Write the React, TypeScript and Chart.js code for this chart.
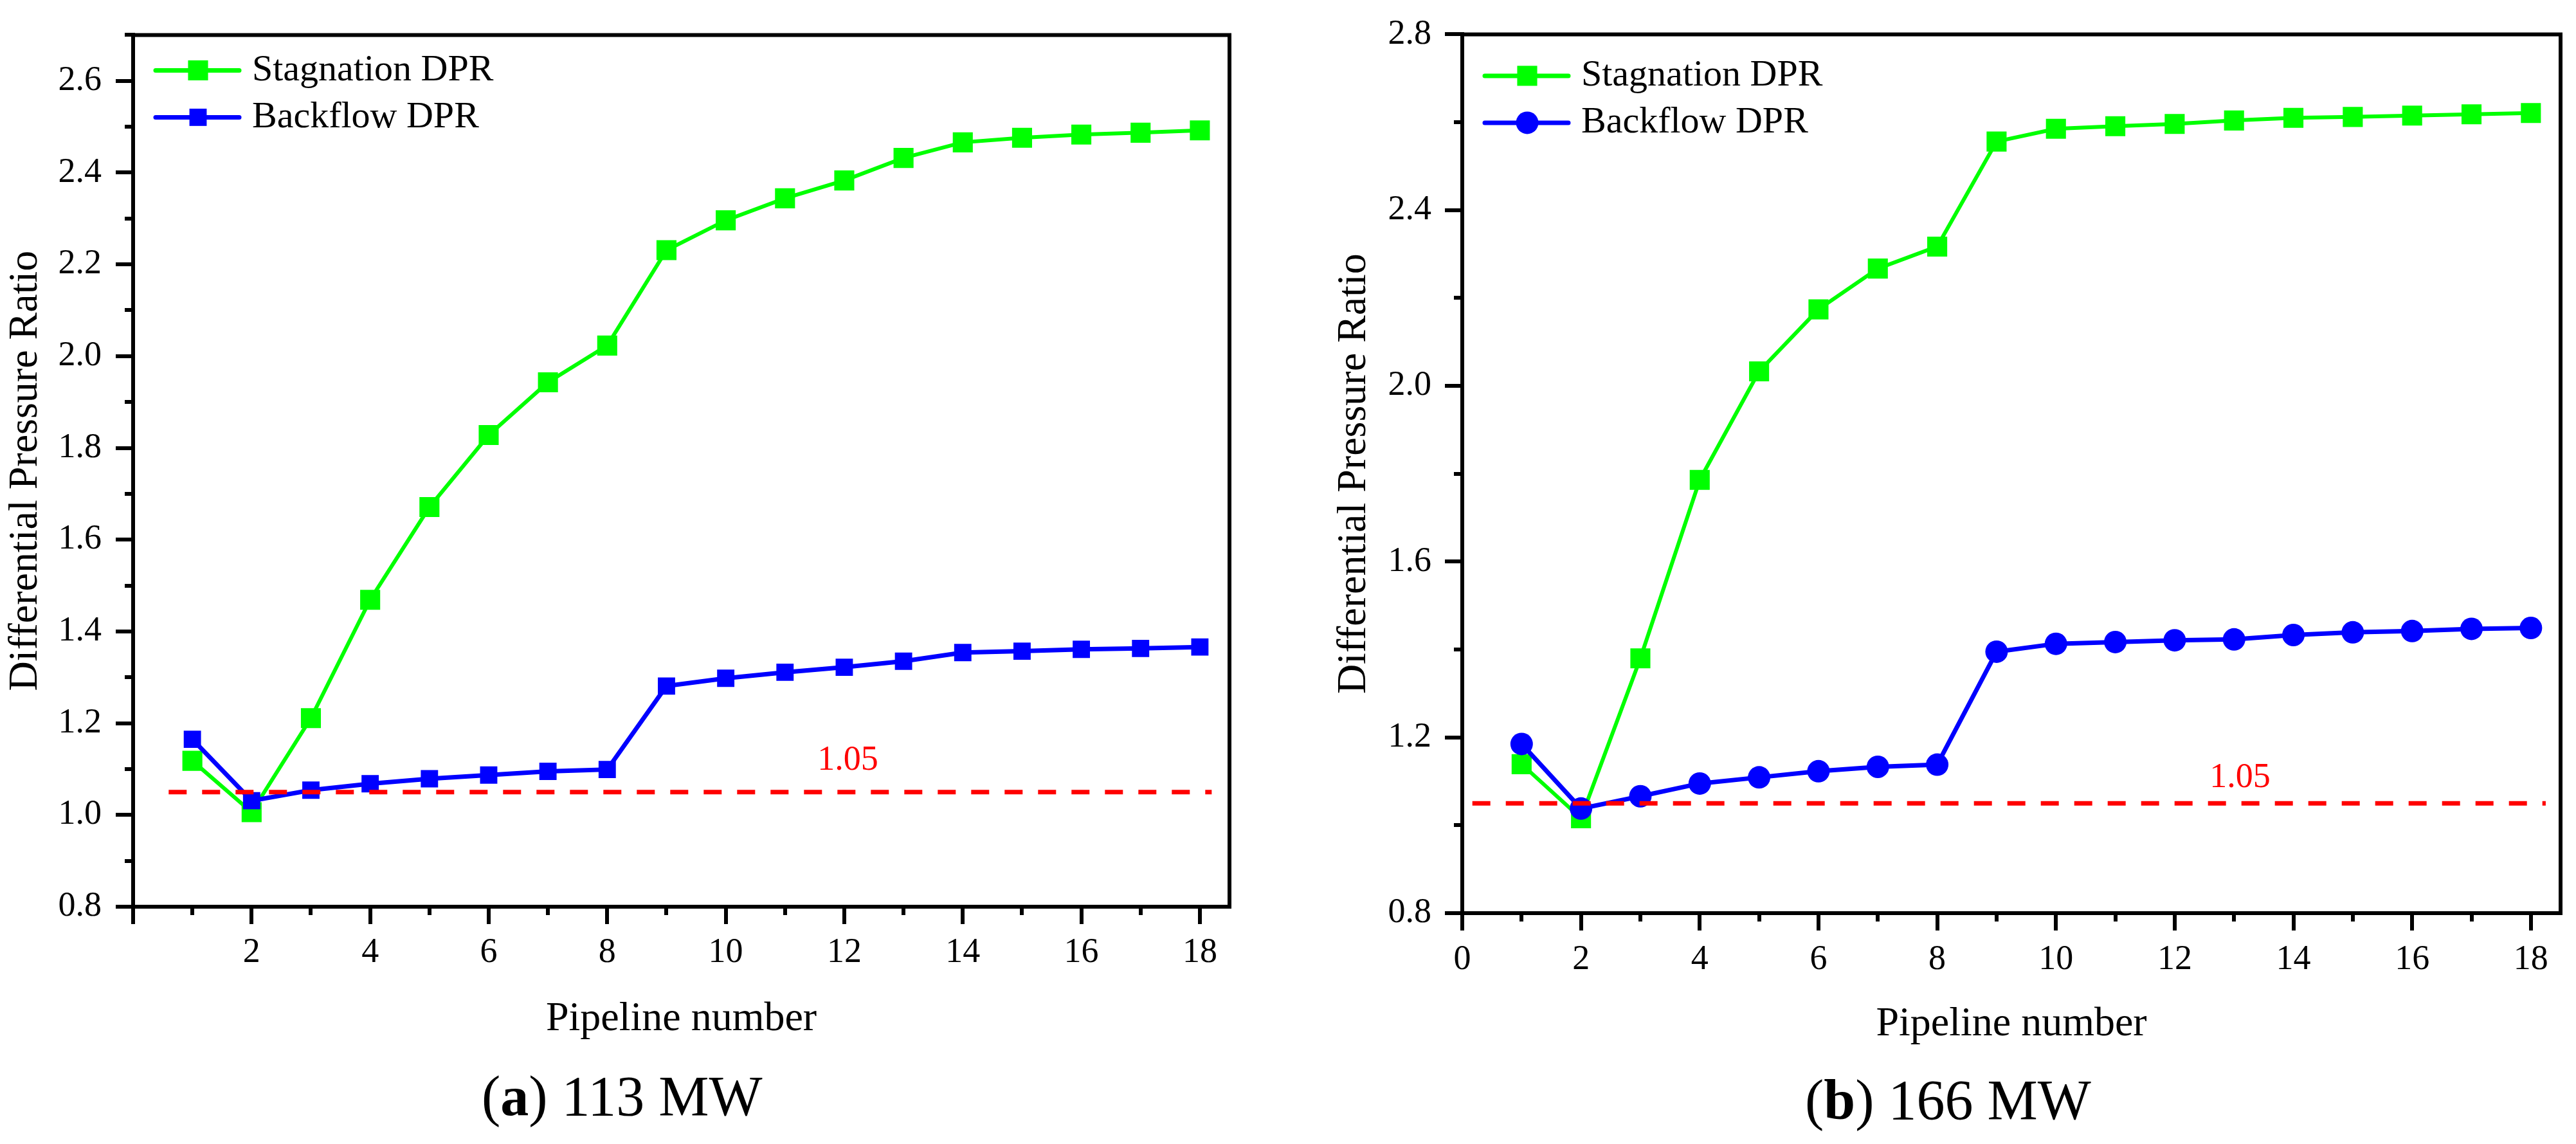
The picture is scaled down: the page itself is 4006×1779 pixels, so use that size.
import React, { useEffect, useRef } from "react";
import { Chart, registerables } from "chart.js";

Chart.register(...registerables);

const FONT = "'Liberation Serif', 'Times New Roman', serif";

// ---------- data ----------
const pipelines = [1, 2, 3, 4, 5, 6, 7, 8, 9, 10, 11, 12, 13, 14, 15, 16, 17, 18];
const stagnationA = [1.118, 1.006, 1.211, 1.469, 1.671, 1.828, 1.943, 2.023, 2.231, 2.296, 2.344, 2.383, 2.432, 2.466, 2.476, 2.483, 2.487, 2.492];
const backflowA = [1.165, 1.031, 1.054, 1.068, 1.079, 1.087, 1.095, 1.099, 1.281, 1.298, 1.311, 1.322, 1.335, 1.354, 1.357, 1.361, 1.363, 1.366];
const stagnationB = [1.139, 1.016, 1.38, 1.786, 2.033, 2.174, 2.267, 2.317, 2.556, 2.585, 2.591, 2.596, 2.604, 2.61, 2.612, 2.615, 2.618, 2.621];
const backflowB = [1.185, 1.038, 1.066, 1.095, 1.109, 1.123, 1.133, 1.138, 1.395, 1.413, 1.417, 1.421, 1.423, 1.433, 1.439, 1.442, 1.447, 1.449];
const thresholdValue = 1.05;
const thresholdText = "1.05";
const thresholdSpanA = [0.6, 18.2];
const thresholdSpanB = [0.17, 18.25];
const noteA = [12.06, 1.118];
const noteB = [13.1, 1.107];
const seriesLabels = ["Stagnation DPR", "Backflow DPR"];
const xTitle = "Pipeline number";
const yTitle = "Differential Pressure Ratio";
const yRangeA = [0.8, 2.7];
const yRangeB = [0.8, 2.8];
const xRange = [0, 18.5];

const framePlugin = {
  id: "frame",
  afterDraw(chart: any) {
    const { ctx, chartArea } = chart;
    ctx.save();
    ctx.strokeStyle = "#000";
    ctx.lineWidth = 6;
    ctx.lineJoin = "miter";
    ctx.beginPath();
    ctx.moveTo(chartArea.left, chartArea.top);
    ctx.lineTo(chartArea.right, chartArea.top);
    ctx.lineTo(chartArea.right, chartArea.bottom + 3);
    ctx.stroke();
    ctx.restore();
  },
};

const legendPlugin = {
  id: "insideLegend",
  afterDraw(chart: any, _args: any, opts: any) {
    const { ctx, chartArea } = chart;
    ctx.save();
    opts.labels.forEach((label: string, k: number) => {
      const ds = chart.data.datasets.find((d: any) => d.label === label);
      if (!ds) return;
      const y = chartArea.top + opts.top + k * opts.gap;
      const x0 = chartArea.left + opts.lineStart;
      ctx.setLineDash([]);
      ctx.strokeStyle = ds.borderColor;
      ctx.lineWidth = 7;
      ctx.lineCap = "round";
      ctx.beginPath();
      ctx.moveTo(x0, y);
      ctx.lineTo(x0 + opts.lineLength, y);
      ctx.stroke();
      const mx = chartArea.left + opts.markerX;
      ctx.fillStyle = ds.backgroundColor;
      if (ds.pointStyle === "circle") {
        ctx.beginPath();
        ctx.arc(mx, y, ds.pointRadius, 0, Math.PI * 2);
        ctx.fill();
      } else {
        const s = ds.pointRadius * Math.SQRT2;
        ctx.fillRect(mx - s / 2, y - s / 2, s, s);
      }
      ctx.fillStyle = "#000";
      ctx.font = `${opts.fontSize}px ${FONT}`;
      ctx.textAlign = "left";
      ctx.textBaseline = "middle";
      ctx.fillText(label, chartArea.left + opts.textX, y);
    });
    ctx.restore();
  },
};

const notePlugin = {
  id: "valueNote",
  afterDatasetsDraw(chart: any, _args: any, opts: any) {
    const { ctx } = chart;
    const x = chart.scales.x.getPixelForValue(opts.x);
    const y = chart.scales.y.getPixelForValue(opts.y);
    ctx.save();
    ctx.fillStyle = "#FF0000";
    ctx.font = `${opts.fontSize}px ${FONT}`;
    ctx.textAlign = "center";
    ctx.textBaseline = "middle";
    ctx.fillText(opts.text, x, y);
    ctx.restore();
  },
};

type PanelCfg = {
  left: number;
  w: number;
  h: number;
  stag: number[];
  back: number[];
  backStyle: string;
  backRadius: number;
  yRange: number[];
  yStep: number;
  yMajorEvery: number;
  showZero: boolean;
  thresholdSpan: number[];
  note: number[];
  padTop: number;
  padRight: number;
  yWidth: number;
  xHeight: number;
  yTickPad: number;
  xTickPad: number;
  yTitlePad: number;
  xTitlePad: number;
  legendTop: number;
};

function ChartPanel({ cfg }: { cfg: PanelCfg }) {
  const ref = useRef<HTMLCanvasElement>(null);
  useEffect(() => {
    const toPts = (arr: number[]) => pipelines.map((p, i) => ({ x: p, y: arr[i] }));
    const isMajorY = (v: number) => Math.round(v * 10) % cfg.yMajorEvery === 0;
    const chart = new Chart(ref.current as HTMLCanvasElement, {
      type: "line",
      data: {
        datasets: [
          {
            label: "threshold",
            data: cfg.thresholdSpan.map((x) => ({ x, y: thresholdValue })),
            borderColor: "#FF0000",
            backgroundColor: "#FF0000",
            borderWidth: 7,
            borderDash: [28, 24],
            pointRadius: 0,
            order: 0,
          },
          {
            label: seriesLabels[1],
            data: toPts(cfg.back),
            borderColor: "#0000FF",
            backgroundColor: "#0000FF",
            borderWidth: 7,
            pointStyle: cfg.backStyle,
            pointRadius: cfg.backRadius,
            pointBorderWidth: 0,
            order: 1,
          },
          {
            label: seriesLabels[0],
            data: toPts(cfg.stag),
            borderColor: "#00FF00",
            backgroundColor: "#00FF00",
            borderWidth: 6,
            pointStyle: "rect",
            pointRadius: 22,
            pointBorderWidth: 0,
            order: 2,
          },
        ] as any,
      },
      options: {
        responsive: false,
        animation: false,
        devicePixelRatio: 1,
        layout: { padding: { left: 0, top: cfg.padTop, right: cfg.padRight, bottom: 0 } },
        plugins: {
          legend: { display: false },
          tooltip: { enabled: false },
          insideLegend: {
            labels: seriesLabels,
            top: cfg.legendTop,
            gap: 73,
            lineStart: 35,
            lineLength: 130,
            markerX: 101,
            textX: 185,
            fontSize: 58,
          },
          valueNote: { x: cfg.note[0], y: cfg.note[1], text: thresholdText, fontSize: 54 },
        } as any,
        scales: {
          x: {
            type: "linear",
            min: xRange[0],
            max: xRange[1],
            afterFit: (s: any) => {
              s.height = cfg.xHeight;
            },
            border: { display: true, color: "#000", width: 6 },
            grid: {
              drawOnChartArea: false,
              drawTicks: true,
              tickLength: 27,
              lineWidth: 6,
              tickWidth: 6,
              color: "#000",
              tickColor: "#000",
              tickBorderDash: (c: any) => (Math.round(c.tick.value) % 2 === 0 ? [] : [10, 100]),
            } as any,
            ticks: {
              stepSize: 1,
              includeBounds: false,
              autoSkip: false,
              maxRotation: 0,
              padding: cfg.xTickPad,
              color: "#000",
              font: { family: FONT, size: 54 },
              callback: (v: any) => {
                const n = Math.round(Number(v));
                if (n % 2 !== 0) return "";
                if (n === 0 && !cfg.showZero) return "";
                return String(n);
              },
            },
            title: {
              display: true,
              text: xTitle,
              color: "#000",
              font: { family: FONT, size: 64 },
              padding: { top: 0, bottom: cfg.xTitlePad },
            },
          },
          y: {
            type: "linear",
            min: cfg.yRange[0],
            max: cfg.yRange[1],
            afterFit: (s: any) => {
              s.width = cfg.yWidth;
            },
            border: { display: true, color: "#000", width: 6 },
            grid: {
              drawOnChartArea: false,
              drawTicks: true,
              tickLength: 27,
              lineWidth: 6,
              tickWidth: 6,
              color: "#000",
              tickColor: "#000",
              tickBorderDash: (c: any) => (isMajorY(c.tick.value) ? [] : [0, 14, 100]),
            } as any,
            ticks: {
              stepSize: cfg.yStep,
              includeBounds: false,
              autoSkip: false,
              padding: cfg.yTickPad,
              color: "#000",
              font: { family: FONT, size: 54 },
              callback: (v: any) => (isMajorY(Number(v)) ? Number(v).toFixed(1) : ""),
            },
            title: {
              display: true,
              text: yTitle,
              color: "#000",
              font: { family: FONT, size: 64 },
              padding: { top: cfg.yTitlePad, bottom: 0 },
            },
          },
        },
      } as any,
      plugins: [framePlugin, legendPlugin, notePlugin] as any,
    });
    return () => chart.destroy();
  }, [cfg]);
  return (
    <canvas
      ref={ref}
      width={cfg.w}
      height={cfg.h}
      style={{ position: "absolute", left: cfg.left, top: 0, width: cfg.w, height: cfg.h }}
    />
  );
}

const panelA: PanelCfg = {
  left: 0,
  w: 1990,
  h: 1660,
  stag: stagnationA,
  back: backflowA,
  backStyle: "rect",
  backRadius: 19,
  yRange: yRangeA,
  yStep: 0.1,
  yMajorEvery: 2,
  showZero: false,
  thresholdSpan: thresholdSpanA,
  note: noteA,
  padTop: 36,
  padRight: 78,
  yWidth: 207,
  xHeight: 250,
  yTickPad: 22,
  xTickPad: 12.6,
  yTitlePad: 1.6,
  xTitlePad: 36.6,
  legendTop: 55,
};

const panelB: PanelCfg = {
  left: 2000,
  w: 2006,
  h: 1660,
  stag: stagnationB,
  back: backflowB,
  backStyle: "circle",
  backRadius: 17.5,
  yRange: yRangeB,
  yStep: 0.2,
  yMajorEvery: 4,
  showZero: true,
  thresholdSpan: thresholdSpanB,
  note: noteB,
  padTop: 38.5,
  padRight: 24,
  yWidth: 274,
  xHeight: 240,
  yTickPad: 21,
  xTickPad: 13.6,
  yTitlePad: 67.6,
  xTitlePad: 28.6,
  legendTop: 64.5,
};

export default function App() {
  const capStyle: React.CSSProperties = {
    position: "absolute",
    fontFamily: FONT,
    fontSize: 88,
    lineHeight: "88px",
    whiteSpace: "nowrap",
    color: "#000",
  };
  return (
    <div style={{ position: "absolute", left: 0, top: 0, width: 4006, height: 1779, background: "#fff", overflow: "hidden" }}>
      <ChartPanel cfg={panelA} />
      <ChartPanel cfg={panelB} />
      <div style={{ ...capStyle, left: 749, top: 1661 }}>
        (<b>a</b>) 113 MW
      </div>
      <div style={{ ...capStyle, left: 2807, top: 1667 }}>
        (<b>b</b>) 166 MW
      </div>
    </div>
  );
}
